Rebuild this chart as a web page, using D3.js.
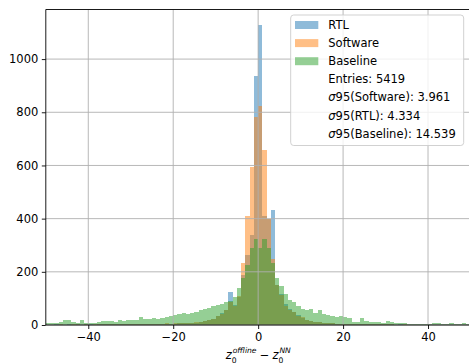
<!DOCTYPE html>
<html><head><meta charset="utf-8">
<script src="https://cdn.jsdelivr.net/npm/d3@7"></script>
<style>html,body{margin:0;padding:0;background:#fff;overflow:hidden}</style>
</head><body>
<svg id="c" width="469" height="364"></svg>
<script>
const binStart = -50, binWidth = 1;
const rtl = [
1,0,2,1,1,2,1,3,1,2,
2,1,3,2,2,3,2,3,4,3,
3,4,3,4,5,3,4,5,4,5,
5,6,7,6,8,9,12,15,18,22,
35,45,55,123,75,105,188,263,338,936,
1130,410,400,432,150,115,78,62,48,36,
28,20,16,12,11,9,7,6,5,5,
4,4,3,4,3,3,2,3,2,2,
3,2,1,2,1,1,1,0,1,1,
1,0,1,1,0,1,1,0,1,0];
const software = [
1,1,1,2,1,1,2,2,1,2,
1,2,2,3,2,2,3,3,3,4,
4,3,4,4,4,5,5,4,6,5,
6,6,6,7,8,10,11,14,17,21,
33,42,55,85,70,110,235,411,595,783,
824,658,400,248,150,112,72,58,50,34,
30,19,15,13,10,8,8,6,5,4,
4,3,4,3,3,2,2,2,3,2,
2,2,1,1,2,1,1,1,0,1,
1,1,0,1,1,0,1,0,0,1];
const baseline = [
6,8,9,10,19,17,10,9,19,8,
8,9,10,14,15,15,12,17,15,19,
18,20,29,21,24,26,23,25,30,33,
36,40,44,43,46,50,55,60,65,72,
75,80,85,90,106,139,175,226,288,322,
288,322,288,235,177,146,118,95,85,70,
62,55,59,46,56,42,36,34,31,32,
30,25,13,12,25,14,12,12,11,9,
16,12,6,6,7,5,3,2,3,5,
2,6,6,3,5,6,3,5,7,4];
const seriesNames = ["RTL","Software","Baseline"];
const seriesColors = ["#1f77b4","#ff7f0e","#2ca02c"];
const xTicks = [-40,-20,0,20,40];
const yTicks = [0,200,400,600,800,1000];
const extraLegend = [
  {sym:"", txt:"Entries: 5419"},
  {sym:"σ", txt:"95(Software): 3.961"},
  {sym:"σ", txt:"95(RTL): 4.334"},
  {sym:"σ", txt:"95(Baseline): 14.539"}];

const FONT = "DejaVu Sans, sans-serif";
const FS = 11.5;
const L = 45.8, R = 470.5, T = 9.5, B = 325;
const svg = d3.select("#c");
const allMax = d3.max([rtl, software, baseline].flat());
const x = d3.scaleLinear().domain([-50, 50]).range([L, R]);
const y = d3.scaleLinear().domain([0, allMax * 1.05]).range([B, T]);

const data = [rtl, software, baseline];
const plot = svg.append("g");
plot.append("clipPath").attr("id","clip").append("rect")
  .attr("x",L).attr("y",T).attr("width",R-L).attr("height",B-T);
const bars = plot.append("g").attr("clip-path","url(#clip)");
data.forEach((arr, si) => {
  bars.append("g").selectAll("rect").data(arr).join("rect")
    .attr("x", (d,i) => x(binStart + i*binWidth))
    .attr("width", (d,i) => x(binStart + (i+1)*binWidth) - x(binStart + i*binWidth))
    .attr("y", d => y(d))
    .attr("height", d => B - y(d))
    .attr("fill", seriesColors[si])
    .attr("fill-opacity", 0.5)
    .attr("shape-rendering","crispEdges");
});

// grid (above bars like matplotlib)
const grid = svg.append("g");
xTicks.forEach(t => grid.append("line").attr("x1",x(t)).attr("x2",x(t)).attr("y1",T).attr("y2",B)
  .attr("stroke","#b0b0b0").attr("stroke-width",0.9));
yTicks.forEach(t => grid.append("line").attr("x1",L).attr("x2",R).attr("y1",y(t)).attr("y2",y(t))
  .attr("stroke","#b0b0b0").attr("stroke-width",0.9));

// axes
const xAxis = d3.axisBottom(x).tickValues(xTicks).tickSize(4).tickPadding(3.5)
  .tickFormat(d => d < 0 ? "\u2212" + Math.abs(d) : String(d));
const gx = svg.append("g").attr("transform",`translate(0,${B})`).call(xAxis);
const yAxis = d3.axisLeft(y).tickValues(yTicks).tickSize(4).tickPadding(3.5).tickFormat(d3.format("d"));
const gy = svg.append("g").attr("transform",`translate(${L},0)`).call(yAxis);
[gx, gy].forEach(g => {
  g.select(".domain").remove();
  g.selectAll(".tick line").attr("stroke","#000").attr("stroke-width",0.9);
  g.selectAll(".tick text").attr("fill","#000").style("font-family",FONT).style("font-size",FS+"px");
});
// spines
svg.append("line").attr("x1",L).attr("x2",L).attr("y1",T).attr("y2",B).attr("stroke","#000").attr("stroke-width",0.9);
svg.append("line").attr("x1",L).attr("x2",R).attr("y1",B).attr("y2",B).attr("stroke","#000").attr("stroke-width",0.9);
svg.append("line").attr("x1",L).attr("x2",R).attr("y1",T).attr("y2",T).attr("stroke","#000").attr("stroke-width",0.9);
svg.append("line").attr("x1",R).attr("x2",R).attr("y1",T).attr("y2",B).attr("stroke","#000").attr("stroke-width",0.9);

// legend
const lg = svg.append("g");
lg.append("rect").attr("x",290.7).attr("y",15).attr("width",173).attr("height",130.5)
  .attr("rx",3).attr("fill","#fff").attr("fill-opacity",0.8).attr("stroke","#cccccc").attr("stroke-width",0.9);
const rowY = i => 25 + i*18.1;
seriesNames.forEach((n,i) => {
  lg.append("rect").attr("x",295).attr("y",rowY(i)-4).attr("width",23.3).attr("height",8)
    .attr("fill",seriesColors[i]).attr("fill-opacity",0.5);
  lg.append("text").attr("x",328.3).attr("y",rowY(i)).attr("dy","0.35em")
    .style("font-family",FONT).style("font-size",FS+"px").text(n);
});
extraLegend.forEach((e,j) => {
  const t = lg.append("text").attr("x",328.3).attr("y",rowY(j+3)).attr("dy","0.35em")
    .style("font-family",FONT).style("font-size",FS+"px");
  if (e.sym) t.append("tspan").style("font-style","italic").text(e.sym);
  t.append("tspan").text(e.txt);
});

// x label: z_0^{offline} - z_0^{NN}
const xl = svg.append("g");
const base = 359, SS = 7.6;
let cx = 0;
function piece(txt, size, dy, italic, at) {
  const t = xl.append("text").attr("x", at).attr("y", base + dy)
    .style("font-family",FONT).style("font-size",size+"px")
    .style("font-style", italic ? "italic" : "normal").text(txt);
  return t.node().getComputedTextLength();
}
function zterm(sup) {
  const wz = piece("z", FS, 0, true, cx);
  const ws = piece("0", SS, 3.8, false, cx + wz);
  const wp = piece(sup, SS, -5.8, true, cx + wz + 0.8);
  cx += wz + Math.max(ws, wp + 0.8);
}
zterm("offline");
cx += 3.2;
const wm = piece("\u2212", FS, 0, false, cx); cx += wm + 3.2;
zterm("NN");
xl.attr("transform", `translate(${258.3 - cx/2},0)`);
</script>
</body></html>
